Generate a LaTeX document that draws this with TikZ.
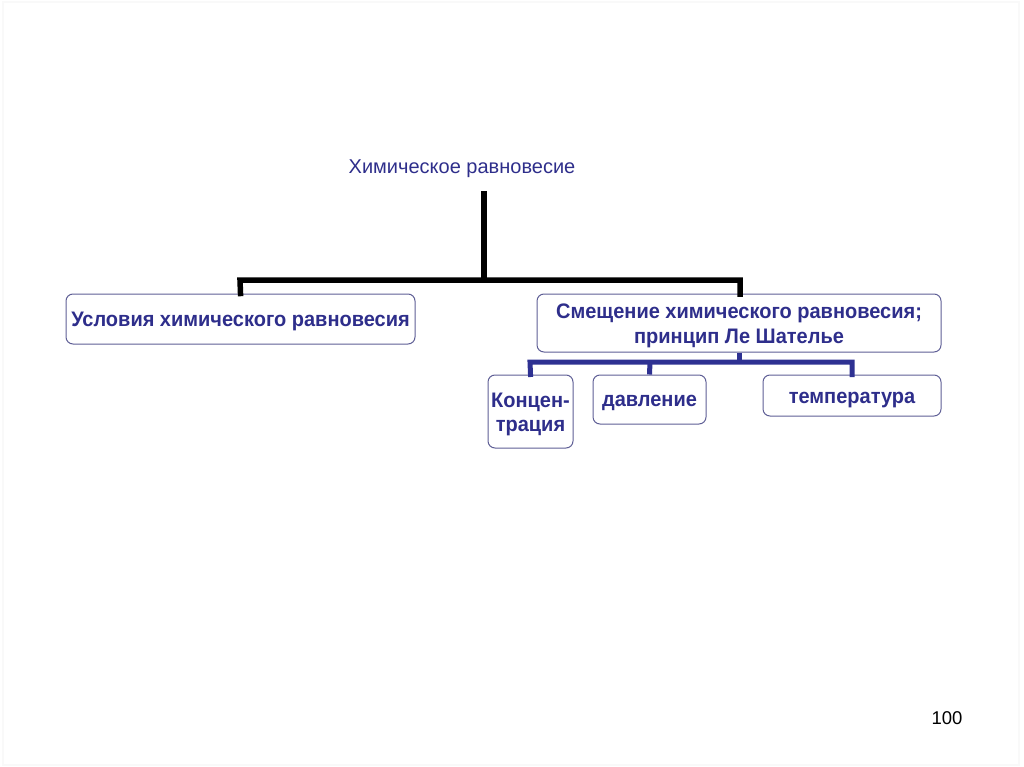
\documentclass[tikz,border=0pt]{standalone}
\usepackage{fontspec}
\setmainfont{Liberation Sans}
\newfontfamily\boxfont[FakeStretch=0.952]{Liberation Sans Bold}
\definecolor{txtblue}{RGB}{46,46,139}
\definecolor{boxline}{RGB}{95,95,150}
\definecolor{conblue}{RGB}{46,49,146}
\newcommand{\twolines}[3]{\begin{tabular}[b]{@{}c@{}}#2\\#3\end{tabular}}
\begin{document}
\begin{tikzpicture}[x=1pt,y=-1pt,
  box/.style={draw=boxline,line width=1pt,rounded corners=7pt,fill=white,text=txtblue,
    font=\fontsize{21}{25}\boxfont,inner sep=0pt},
  blackcon/.style={line width=5.5pt,black},
  bluecon/.style={line width=5pt,conblue}]
\useasboundingbox (0,0) rectangle (1024,767);
\draw[gray!5,line width=1.5pt] (3,2) rectangle (1019,765);
\node[text=txtblue,font=\fontsize{20}{24}\selectfont,anchor=base] (root) at (462,174) {Химическое равновесие};
\node[box,minimum width=349pt,minimum height=50pt,text height=19.4pt,text depth=4pt] (usl) at (240.5,319) {Условия химического равновесия};
\node[box,minimum width=404pt,minimum height=58pt,text height=45pt,text depth=4.4pt] (sme) at (739,323)
  {\begin{tabular}[b]{@{}c@{}}Смещение химического равновесия;\\принцип Ле Шателье\end{tabular}};
\node[box,minimum width=85pt,minimum height=73pt,text height=43pt,text depth=4pt,font=\fontsize{21}{23.3}\boxfont] (kon) at (530.5,411.5)
  {\begin{tabular}[b]{@{}c@{}}Концен-\\трация\end{tabular}};
\node[box,minimum width=113pt,minimum height=49pt,text height=18.4pt,text depth=4pt] (dav) at (649.5,399.5) {давление};
\node[box,minimum width=178pt,minimum height=41pt,text height=19.6pt,text depth=4pt] (tem) at (852,395.5) {температура};
\node[font=\fontsize{18.5}{20}\selectfont] (num) at (947,718) {100};
\coordinate (rb) at (484,191);
\coordinate (j1) at (484,280);
\draw[blackcon] (rb) -- (j1);
\draw[blackcon,line cap=rect] (usl.north) -- (240,280) -- (740,280) -- (740,294);
\draw[bluecon] (sme.south) -- (739,362);
\draw[bluecon,line cap=rect] (kon.north) -- (530,362) -- (852,362) -- (tem.north);
\draw[bluecon] (dav.north) -- (650,362);
\end{tikzpicture}
\end{document}
